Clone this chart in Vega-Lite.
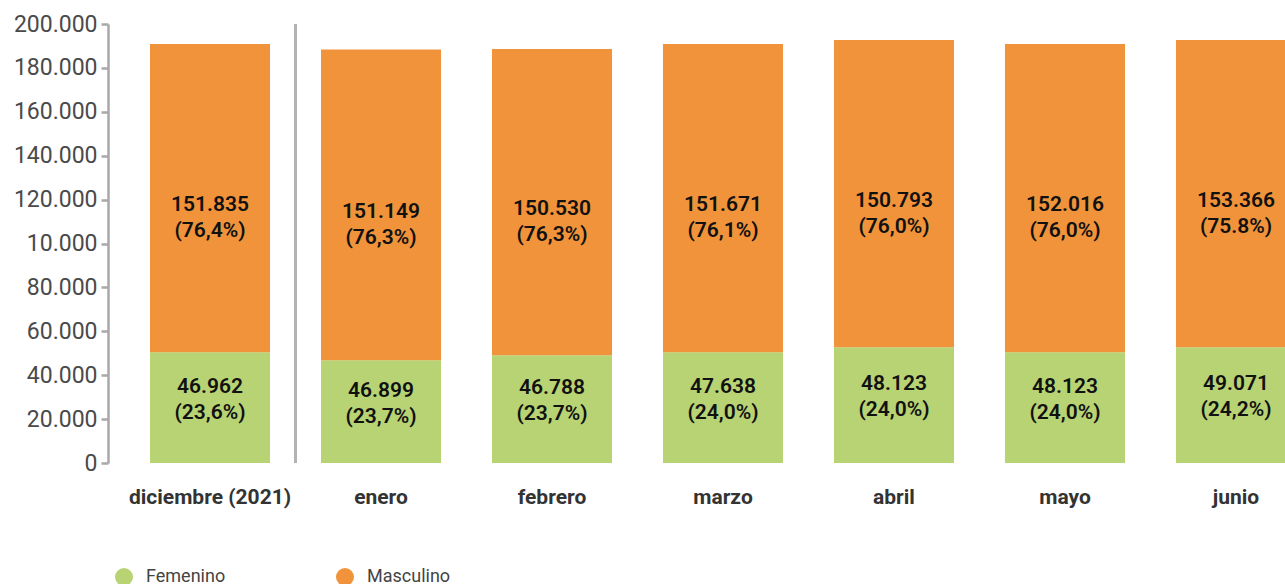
{
  "$schema": "https://vega.github.io/schema/vega-lite/v6.json",
  "autosize": {"type": "none"},
  "width": 1177,
  "height": 439,
  "padding": {"left": 108, "top": 24, "right": 0, "bottom": 121},
  "config": {
    "view": {"stroke": null},
    "font": "Roboto",
    "locale": {"number": {"decimal": ",", "thousands": ".", "grouping": [3], "currency": ["$", ""]}}
  },
  "data": {
    "values": [
      {"mes": "diciembre (2021)", "sexo": "Femenino", "valor": 46962, "altura": 50450, "texto": "46.962\n(23,6%)"},
      {"mes": "diciembre (2021)", "sexo": "Masculino", "valor": 151835, "altura": 140450, "texto": "151.835\n(76,4%)"},
      {"mes": "enero", "sexo": "Femenino", "valor": 46899, "altura": 46800, "texto": "46.899\n(23,7%)"},
      {"mes": "enero", "sexo": "Masculino", "valor": 151149, "altura": 141600, "texto": "151.149\n(76,3%)"},
      {"mes": "febrero", "sexo": "Femenino", "valor": 46788, "altura": 49100, "texto": "46.788\n(23,7%)"},
      {"mes": "febrero", "sexo": "Masculino", "valor": 150530, "altura": 139500, "texto": "150.530\n(76,3%)"},
      {"mes": "marzo", "sexo": "Femenino", "valor": 47638, "altura": 50450, "texto": "47.638\n(24,0%)"},
      {"mes": "marzo", "sexo": "Masculino", "valor": 151671, "altura": 140450, "texto": "151.671\n(76,1%)"},
      {"mes": "abril", "sexo": "Femenino", "valor": 48123, "altura": 52700, "texto": "48.123\n(24,0%)"},
      {"mes": "abril", "sexo": "Masculino", "valor": 150793, "altura": 140000, "texto": "150.793\n(76,0%)"},
      {"mes": "mayo", "sexo": "Femenino", "valor": 48123, "altura": 50450, "texto": "48.123\n(24,0%)"},
      {"mes": "mayo", "sexo": "Masculino", "valor": 152016, "altura": 140450, "texto": "152.016\n(76,0%)"},
      {"mes": "junio", "sexo": "Femenino", "valor": 49071, "altura": 52700, "texto": "49.071\n(24,2%)"},
      {"mes": "junio", "sexo": "Masculino", "valor": 153366, "altura": 140000, "texto": "153.366\n(75.8%)"}
    ]
  },
  "encoding": {
    "x": {
      "field": "mes", "type": "nominal",
      "sort": ["diciembre (2021)", "enero", "febrero", "marzo", "abril", "mayo", "junio"],
      "scale": {"range": [42, 1188], "paddingInner": 0.298, "paddingOuter": 0},
      "axis": {"title": null, "domain": false, "ticks": false, "labelAngle": 0, "labelFontSize": 21, "labelFontWeight": "bold", "labelColor": "#333333", "labelPadding": 23}
    }
  },
  "layer": [
    {
      "mark": {"type": "bar"},
      "encoding": {
        "y": {
          "field": "altura", "type": "quantitative", "stack": "zero",
          "scale": {"domain": [0, 200000], "nice": false},
          "axis": {
            "title": null, "grid": false,
            "values": [0, 20000, 40000, 60000, 80000, 100000, 120000, 140000, 160000, 180000, 200000],
            "format": ",d",
            "labelExpr": "datum.value == 100000 ? '10.000' : datum.label",
            "domainColor": "#a8a8a8", "domainWidth": 2.5,
            "tickColor": "#a8a8a8", "tickWidth": 2.5, "tickSize": 7,
            "labelFontSize": 23, "labelColor": "#4a4a4a", "labelPadding": 4
          }
        },
        "color": {
          "field": "sexo", "type": "nominal",
          "scale": {"domain": ["Femenino", "Masculino"], "range": ["#B8D373", "#F0933A"]},
          "legend": {
            "orient": "none", "legendX": 7, "legendY": 544, "direction": "horizontal",
            "title": null, "symbolType": "circle", "symbolSize": 324, "symbolStrokeWidth": 0,
            "labelFontSize": 18, "labelColor": "#444444", "labelOffset": 13, "columnPadding": 110
          }
        },
        "order": {"field": "sexo"}
      }
    },
    {
      "mark": {"type": "text", "lineBreak": "\n", "fontSize": 21, "fontWeight": 600, "color": "#111111", "baseline": "middle", "dy": 7, "lineHeight": 26},
      "encoding": {
        "y": {"field": "altura", "type": "quantitative", "stack": "zero", "bandPosition": 0.5},
        "order": {"field": "sexo"},
        "text": {"condition": {"test": "datum.sexo == 'Masculino'", "field": "texto"}, "value": ""}
      }
    },
    {
      "mark": {"type": "text", "lineBreak": "\n", "fontSize": 21, "fontWeight": 600, "color": "#111111", "baseline": "middle", "dy": -21, "lineHeight": 26},
      "encoding": {
        "y": {"field": "altura", "type": "quantitative", "stack": "zero", "bandPosition": 0.5},
        "order": {"field": "sexo"},
        "text": {"condition": {"test": "datum.sexo == 'Femenino'", "field": "texto"}, "value": ""}
      }
    },
    {
      "mark": {"type": "rule", "color": "#b3b3b3", "strokeWidth": 2},
      "encoding": {
        "x": {"datum": "diciembre (2021)", "type": "nominal", "bandPosition": 1.2125},
        "y": {"datum": 0, "type": "quantitative"},
        "y2": {"datum": 200000}
      }
    }
  ]
}
